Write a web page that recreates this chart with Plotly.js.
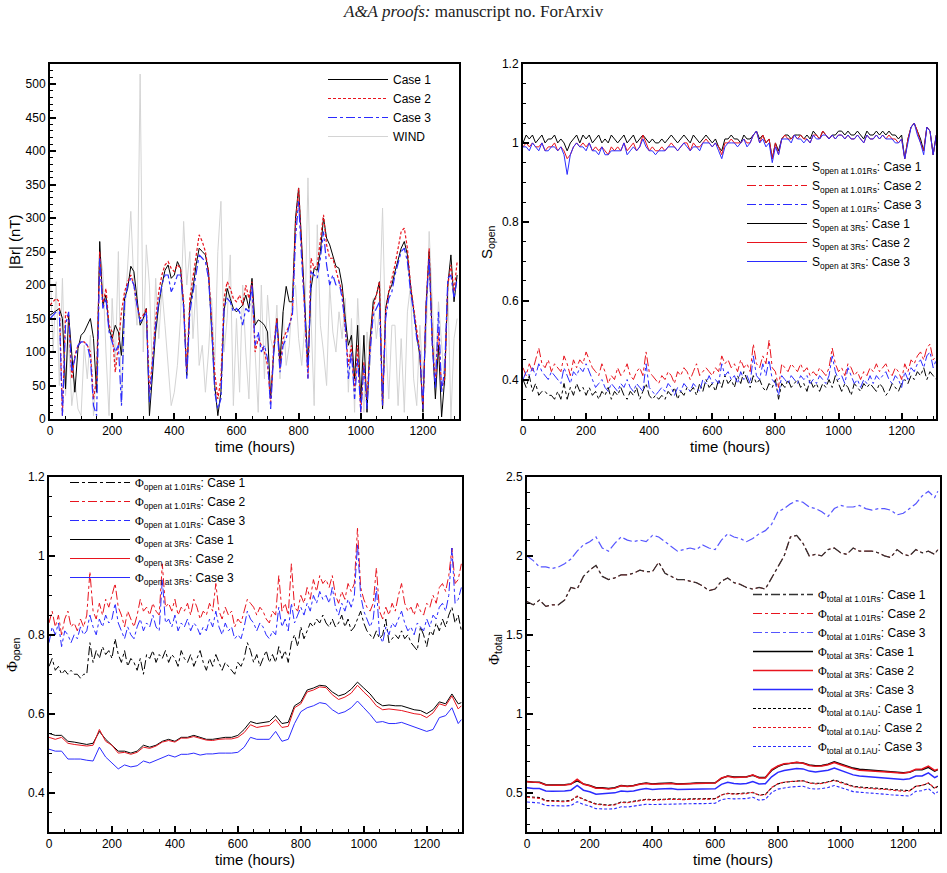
<!DOCTYPE html>
<html><head><meta charset="utf-8">
<script src="https://cdn.plot.ly/plotly-3.0.1.min.js"></script>
<style>body{margin:0;padding:0;background:#fff}#chart{width:947px;height:873px}</style>
</head><body><div id="chart"></div>
<script>
// ---------- Panel 1: |Br| (nT), sampled every 10 h ----------
const brCase1 = [155,158,162,165,150,45,155,100,40,105,125,130,140,150,120,40,265,170,185,135,120,140,
130,95,180,195,228,220,180,140,150,165,5,70,130,170,200,222,230,210,215,235,225,170,
65,170,195,230,255,250,245,220,140,50,5,40,160,195,180,165,160,165,170,185,165,210,
140,148,145,140,130,30,100,150,85,160,198,175,175,300,345,260,170,80,195,225,222,250,
300,270,260,245,228,225,200,150,110,125,60,140,25,125,10,120,175,185,205,15,165,190,
200,220,240,255,265,245,200,160,125,95,10,170,250,120,30,110,3,60,200,245,175,215];
const brCase2 = [170,175,180,175,5,160,150,60,95,110,115,115,110,100,30,60,250,170,195,140,130,70,
110,160,190,205,215,200,170,150,155,165,40,90,150,190,215,230,235,225,220,230,225,175,
70,180,210,240,275,265,250,220,150,70,30,60,180,205,195,180,175,185,170,200,180,205,
100,120,110,100,80,25,110,150,75,120,130,140,160,290,345,250,150,60,240,225,230,270,
305,260,240,240,220,205,190,140,80,110,40,110,10,85,30,110,165,185,205,20,160,190,
210,230,255,280,285,255,200,165,130,100,15,170,255,115,55,130,45,60,200,230,190,235];
const brCase3 = [150,155,160,160,5,140,160,70,90,110,115,115,110,90,20,5,240,165,180,130,115,100,
110,20,175,200,210,200,170,145,150,160,25,80,140,175,200,215,215,190,200,215,215,165,
60,160,190,215,245,240,235,210,140,40,15,30,165,180,175,160,165,160,140,165,160,200,
110,130,100,110,90,15,100,145,70,110,120,140,155,270,325,235,160,60,220,215,210,240,
280,230,200,215,200,205,180,140,60,100,30,90,10,80,15,100,155,165,175,20,150,180,
190,215,235,250,255,235,190,160,120,100,15,165,240,110,45,160,40,75,210,215,180,210];
const brWind = [230,100,205,50,210,35,120,20,60,15,5,110,60,125,5,80,250,220,100,5,180,80,
250,20,150,230,310,200,140,515,100,260,200,60,210,120,195,140,80,20,40,80,150,295,
200,250,120,200,80,110,40,100,180,80,250,325,100,150,245,20,150,40,200,100,30,180,
100,10,200,60,185,120,100,170,60,160,80,110,190,200,120,80,140,360,150,20,290,140,
100,50,200,130,100,160,120,180,40,150,10,180,90,10,130,80,180,120,160,315,120,30,
140,140,20,120,10,160,200,60,20,140,60,110,280,170,70,175,110,50,200,0,120,150];

// ---------- Panel 2: S_open, every 10 h ----------
const sOpen3Case1 = [1.00,1.02,1.01,1.02,1.00,1.01,1.02,1.00,1.01,1.01,1.02,1.00,1.01,1.00,0.98,1.00,1.01,1.02,1.00,1.02,1.01,1.02,
1.00,1.01,1.02,1.00,1.01,1.00,1.02,1.01,1.00,1.01,1.02,1.00,1.01,1.02,1.00,1.01,1.02,1.01,1.00,1.01,1.00,1.00,
1.01,1.00,1.01,1.02,1.01,1.00,1.01,1.02,1.01,1.00,1.02,1.01,1.00,1.01,1.02,1.01,1.00,1.01,0.99,0.98,1.01,1.01,
1.02,1.01,1.01,1.00,1.02,1.01,1.01,1.02,1.03,1.01,1.02,1.00,1.01,0.96,1.00,0.98,1.01,1.02,1.02,1.01,1.02,1.02,
1.02,1.01,1.02,1.01,1.03,1.02,1.01,1.03,1.02,1.01,1.02,1.02,1.03,1.03,1.02,1.03,1.02,1.02,1.03,1.02,1.01,1.03,
1.02,1.02,1.03,1.02,1.03,1.02,1.03,1.02,1.02,1.01,1.02,0.96,1.01,1.04,1.05,1.03,1.01,0.98,1.04,1.03,0.97,1.02];
const sOpen3Case2 = [0.99,1.00,0.99,1.00,0.99,0.99,1.00,0.98,0.99,0.99,1.00,0.98,0.99,0.98,0.96,0.97,0.99,1.00,0.99,1.00,0.99,1.00,
0.98,0.99,0.98,0.99,0.98,0.97,0.99,0.98,0.99,0.98,1.00,0.98,0.99,1.00,0.98,0.99,1.02,1.00,0.98,0.99,0.98,0.98,
0.99,0.98,0.99,1.00,0.99,0.98,0.99,1.00,1.00,0.98,1.00,0.99,0.99,1.00,1.01,1.00,0.99,1.00,0.99,0.97,1.00,1.00,
1.01,1.00,1.00,1.00,1.01,1.00,1.00,1.02,1.03,1.00,1.02,1.00,1.01,0.96,1.00,0.97,1.01,1.02,1.01,1.01,1.02,1.01,
1.02,1.01,1.01,1.00,1.02,1.02,1.01,1.03,1.02,1.01,1.02,1.01,1.02,1.02,1.01,1.02,1.01,1.01,1.02,1.01,1.00,1.02,
1.01,1.01,1.02,1.01,1.02,1.01,1.02,1.01,1.01,1.00,1.01,0.96,1.01,1.04,1.05,1.03,1.00,0.98,1.04,1.03,0.97,1.02];
const sOpen3Case3 = [0.99,0.99,0.98,1.00,0.99,0.98,1.00,0.98,0.98,0.99,0.99,0.98,0.99,0.97,0.92,0.97,0.99,1.00,0.99,0.99,0.98,1.00,
0.98,0.98,0.97,0.99,0.97,0.97,0.98,0.98,0.98,0.98,1.00,0.97,0.98,0.99,0.98,0.99,1.01,0.99,0.98,0.98,0.97,0.98,
0.98,0.98,0.99,0.99,0.99,0.98,0.99,1.00,0.99,0.98,0.99,0.99,0.98,1.00,1.00,1.00,0.99,1.00,0.98,0.96,0.99,1.00,
1.00,1.00,0.99,1.00,1.01,0.99,1.00,1.02,1.03,1.00,1.01,0.99,1.00,0.95,0.99,0.97,1.01,1.01,1.01,1.00,1.02,1.01,
1.01,1.00,1.01,1.00,1.02,1.01,1.01,1.02,1.02,1.01,1.02,1.01,1.02,1.02,1.01,1.02,1.01,1.01,1.02,1.01,1.00,1.02,
1.01,1.01,1.02,1.01,1.02,1.01,1.01,1.01,1.00,1.00,1.01,0.96,1.00,1.04,1.05,1.02,1.00,0.97,1.04,1.03,0.97,1.02];
const sOpen101Case1 = [0.40,0.38,0.41,0.37,0.39,0.36,0.37,0.37,0.36,0.36,0.35,0.37,0.35,0.39,0.35,0.38,0.36,0.39,0.37,0.38,0.36,0.38,
0.36,0.37,0.35,0.37,0.36,0.38,0.35,0.37,0.36,0.38,0.36,0.35,0.37,0.36,0.38,0.35,0.37,0.39,0.36,0.35,0.36,0.35,
0.36,0.35,0.37,0.36,0.38,0.35,0.37,0.36,0.38,0.37,0.38,0.36,0.39,0.37,0.40,0.38,0.39,0.37,0.40,0.38,0.41,0.39,
0.40,0.38,0.41,0.39,0.42,0.40,0.38,0.41,0.39,0.40,0.38,0.37,0.39,0.38,0.40,0.35,0.39,0.38,0.40,0.38,0.39,0.40,
0.38,0.39,0.37,0.40,0.38,0.39,0.37,0.39,0.38,0.40,0.38,0.41,0.39,0.37,0.39,0.38,0.36,0.39,0.38,0.37,0.39,0.38,
0.39,0.38,0.37,0.39,0.38,0.36,0.37,0.39,0.38,0.37,0.39,0.40,0.39,0.41,0.40,0.42,0.41,0.43,0.40,0.42,0.41,0.40];
const sOpen101Case2 = [0.43,0.41,0.44,0.42,0.45,0.48,0.44,0.43,0.45,0.42,0.44,0.43,0.42,0.46,0.44,0.41,0.45,0.43,0.45,0.44,0.47,0.45,
0.43,0.42,0.41,0.44,0.42,0.39,0.41,0.40,0.43,0.41,0.42,0.44,0.41,0.40,0.42,0.43,0.41,0.47,0.42,0.41,0.40,0.39,
0.41,0.40,0.42,0.41,0.39,0.42,0.41,0.43,0.42,0.40,0.42,0.44,0.41,0.42,0.43,0.42,0.41,0.43,0.42,0.46,0.44,0.45,
0.43,0.44,0.42,0.45,0.43,0.44,0.42,0.49,0.44,0.43,0.46,0.44,0.50,0.43,0.42,0.38,0.44,0.43,0.42,0.44,0.43,0.42,
0.44,0.42,0.43,0.41,0.42,0.41,0.43,0.42,0.41,0.43,0.48,0.44,0.42,0.43,0.41,0.44,0.43,0.41,0.42,0.40,0.42,0.41,
0.43,0.42,0.44,0.42,0.43,0.44,0.42,0.41,0.43,0.42,0.40,0.44,0.42,0.45,0.44,0.46,0.47,0.45,0.48,0.49,0.45,0.46];
const sOpen101Case3 = [0.40,0.42,0.41,0.43,0.41,0.44,0.42,0.41,0.40,0.42,0.41,0.40,0.39,0.43,0.41,0.39,0.42,0.41,0.43,0.42,0.44,0.42,
0.40,0.38,0.39,0.40,0.38,0.37,0.39,0.38,0.37,0.39,0.38,0.40,0.38,0.37,0.39,0.38,0.37,0.44,0.38,0.37,0.36,0.37,
0.38,0.37,0.39,0.38,0.36,0.38,0.37,0.39,0.38,0.37,0.39,0.38,0.37,0.40,0.39,0.41,0.39,0.40,0.39,0.44,0.41,0.42,
0.40,0.41,0.39,0.42,0.40,0.41,0.39,0.46,0.41,0.40,0.44,0.41,0.45,0.40,0.39,0.36,0.41,0.40,0.39,0.41,0.40,0.39,
0.41,0.40,0.41,0.39,0.40,0.39,0.41,0.40,0.39,0.41,0.46,0.42,0.40,0.41,0.39,0.43,0.41,0.39,0.40,0.38,0.40,0.39,
0.41,0.39,0.41,0.40,0.41,0.42,0.40,0.39,0.41,0.40,0.38,0.42,0.40,0.43,0.42,0.44,0.45,0.43,0.46,0.47,0.43,0.45];

// ---------- Panel 3: Phi_open ----------
const phiOpen101Case1 = [0.72,0.74,0.71,0.72,0.70,0.71,0.70,0.71,0.70,0.70,0.69,0.70,0.70,0.78,0.73,0.76,0.74,0.77,0.75,0.76,0.74,0.79,
0.75,0.73,0.76,0.72,0.74,0.73,0.71,0.74,0.70,0.75,0.74,0.76,0.73,0.75,0.74,0.76,0.73,0.75,0.74,0.72,0.76,0.74,
0.73,0.75,0.72,0.74,0.76,0.73,0.71,0.74,0.72,0.75,0.73,0.71,0.73,0.72,0.71,0.70,0.73,0.72,0.74,0.78,0.76,0.73,
0.75,0.72,0.74,0.76,0.73,0.75,0.73,0.77,0.74,0.76,0.73,0.78,0.80,0.77,0.82,0.79,0.81,0.83,0.82,0.84,0.83,0.85,
0.83,0.82,0.84,0.82,0.83,0.85,0.82,0.84,0.81,0.82,0.84,0.86,0.83,0.81,0.80,0.79,0.81,0.79,0.80,0.84,0.78,0.79,
0.80,0.79,0.81,0.79,0.80,0.78,0.77,0.76,0.82,0.80,0.77,0.81,0.80,0.83,0.81,0.84,0.82,0.85,0.87,0.83,0.85,0.81];
const phiOpen101Case2 = [0.83,0.86,0.82,0.85,0.80,0.84,0.86,0.82,0.83,0.81,0.84,0.82,0.85,0.96,0.86,0.84,0.88,0.85,0.89,0.87,0.90,0.93,
0.87,0.85,0.82,0.86,0.84,0.82,0.85,0.89,0.86,0.87,0.85,0.88,0.86,0.85,0.98,0.87,0.88,0.86,0.89,0.85,0.87,0.86,
0.88,0.85,0.89,0.87,0.84,0.86,0.85,0.88,0.86,0.93,0.86,0.84,0.87,0.85,0.86,0.82,0.84,0.83,0.86,0.89,0.88,0.87,
0.85,0.87,0.86,0.84,0.83,0.86,0.85,0.95,0.86,0.88,0.85,0.98,0.87,0.86,0.90,0.88,0.92,0.89,0.94,0.91,0.95,0.93,
0.94,0.92,0.95,0.90,0.88,0.91,0.89,0.93,0.91,0.93,1.07,0.92,0.89,0.87,0.86,0.88,0.97,0.86,0.84,0.87,0.85,0.88,
0.86,0.90,0.93,0.88,0.86,0.87,0.85,0.88,0.86,0.85,0.88,0.87,0.90,0.88,0.92,0.93,0.91,0.95,1.02,0.93,0.94,0.98];
const phiOpen101Case3 = [0.78,0.82,0.80,0.83,0.77,0.81,0.80,0.78,0.80,0.79,0.82,0.80,0.81,0.85,0.82,0.80,0.84,0.82,0.85,0.83,0.84,0.88,
0.83,0.81,0.79,0.82,0.80,0.79,0.82,0.84,0.81,0.83,0.82,0.85,0.82,0.81,0.94,0.83,0.84,0.82,0.85,0.81,0.83,0.82,
0.84,0.81,0.83,0.82,0.80,0.82,0.81,0.84,0.82,0.86,0.82,0.80,0.83,0.81,0.82,0.79,0.80,0.79,0.82,0.86,0.84,0.83,
0.81,0.83,0.82,0.80,0.79,0.81,0.80,0.87,0.82,0.84,0.81,0.88,0.83,0.85,0.87,0.85,0.88,0.86,0.90,0.88,0.91,0.89,
0.90,0.88,0.92,0.87,0.85,0.88,0.86,0.89,0.87,0.90,1.03,0.90,0.86,0.84,0.82,0.84,0.92,0.80,0.78,0.82,0.80,0.83,
0.82,0.84,0.86,0.83,0.81,0.82,0.80,0.83,0.82,0.81,0.84,0.82,0.85,0.84,0.87,0.88,0.86,0.90,1.02,0.88,0.89,0.92];
// every 20 h, plus 1310 h
const phiOpen3Case1 = [0.550,0.545,0.545,0.530,0.528,0.525,0.522,0.525,0.555,0.535,0.520,
0.505,0.505,0.500,0.505,0.520,0.515,0.520,0.530,0.535,0.530,0.540,
0.540,0.545,0.540,0.535,0.535,0.538,0.540,0.540,0.545,0.560,0.580,
0.575,0.578,0.580,0.595,0.575,0.578,0.620,0.630,0.660,0.665,0.672,
0.670,0.655,0.645,0.650,0.662,0.680,0.665,0.650,0.630,0.620,0.622,
0.620,0.620,0.615,0.610,0.608,0.600,0.610,0.630,0.625,0.650,0.625,0.628];
const phiOpen3Case2 = [0.540,0.535,0.540,0.525,0.522,0.520,0.518,0.520,0.560,0.530,0.520,
0.500,0.502,0.497,0.502,0.515,0.512,0.518,0.528,0.532,0.528,0.538,
0.538,0.542,0.538,0.533,0.532,0.535,0.536,0.536,0.540,0.552,0.572,
0.565,0.568,0.570,0.585,0.565,0.568,0.615,0.625,0.655,0.660,0.668,
0.666,0.648,0.636,0.642,0.652,0.672,0.655,0.640,0.620,0.610,0.612,
0.610,0.608,0.604,0.600,0.598,0.590,0.602,0.625,0.620,0.645,0.612,0.620];
const phiOpen3Case3 = [0.510,0.505,0.505,0.485,0.485,0.485,0.482,0.480,0.515,0.490,0.475,
0.460,0.470,0.465,0.468,0.480,0.475,0.482,0.490,0.495,0.490,0.497,
0.497,0.500,0.495,0.498,0.498,0.500,0.500,0.500,0.502,0.515,0.540,
0.535,0.535,0.535,0.555,0.530,0.535,0.575,0.605,0.615,0.620,0.628,
0.625,0.610,0.600,0.605,0.615,0.632,0.615,0.598,0.578,0.580,0.575,
0.575,0.578,0.572,0.565,0.560,0.555,0.560,0.590,0.595,0.615,0.575,0.585];

// ---------- Panel 4: Phi_total, every 20 h plus 1310 h ----------
const phiTot101Case1 = [1.71,1.69,1.72,1.68,1.69,1.69,1.72,1.80,1.79,1.87,1.91,
1.94,1.87,1.85,1.86,1.88,1.88,1.89,1.91,1.90,1.90,1.96,
1.89,1.87,1.85,1.85,1.84,1.83,1.81,1.78,1.79,1.84,1.86,
1.83,1.82,1.80,1.79,1.80,1.79,1.86,1.93,2.00,2.12,2.13,
2.08,2.00,2.01,2.00,2.04,2.05,2.02,2.01,2.05,2.03,2.03,
2.03,2.02,2.00,1.99,2.04,2.01,2.00,2.04,2.02,2.03,2.01,2.04];
const phiTot101Case2 = phiTot101Case1; // coincides with Case 1 in the figure
const phiTot101Case3 = [2.00,1.97,1.93,1.93,1.92,1.93,1.95,1.98,2.03,2.07,2.09,
2.12,2.05,2.03,2.08,2.12,2.10,2.09,2.10,2.09,2.13,2.12,
2.09,2.06,2.03,2.04,2.05,2.04,2.07,2.05,2.04,2.10,2.14,
2.12,2.11,2.09,2.11,2.14,2.16,2.20,2.28,2.30,2.33,2.35,
2.34,2.31,2.30,2.28,2.25,2.30,2.32,2.31,2.31,2.32,2.30,
2.29,2.30,2.30,2.29,2.26,2.27,2.30,2.33,2.38,2.41,2.37,2.41];
const phiTot3Case1 = [0.570,0.565,0.565,0.550,0.548,0.548,0.550,0.555,0.575,0.555,0.545,
0.530,0.530,0.525,0.530,0.545,0.540,0.545,0.555,0.560,0.555,0.558,
0.560,0.560,0.555,0.555,0.558,0.560,0.560,0.560,0.562,0.590,0.605,
0.598,0.598,0.600,0.610,0.595,0.595,0.640,0.665,0.680,0.685,0.690,
0.688,0.675,0.670,0.672,0.680,0.695,0.682,0.668,0.655,0.648,0.645,
0.642,0.640,0.636,0.632,0.628,0.625,0.628,0.645,0.645,0.660,0.635,0.645];
const phiTot3Case2 = [0.568,0.565,0.563,0.548,0.546,0.546,0.548,0.553,0.585,0.553,0.543,
0.528,0.528,0.522,0.528,0.543,0.538,0.543,0.553,0.558,0.553,0.556,
0.558,0.558,0.553,0.553,0.556,0.558,0.558,0.558,0.560,0.592,0.603,
0.596,0.596,0.598,0.612,0.593,0.593,0.645,0.668,0.682,0.686,0.692,
0.686,0.672,0.666,0.668,0.676,0.690,0.676,0.662,0.650,0.642,0.640,
0.638,0.636,0.632,0.628,0.625,0.622,0.630,0.648,0.650,0.668,0.640,0.648];
const phiTot3Case3 = [0.530,0.525,0.525,0.510,0.508,0.508,0.510,0.515,0.545,0.515,0.505,
0.490,0.492,0.495,0.498,0.510,0.506,0.510,0.520,0.525,0.520,0.522,
0.524,0.525,0.520,0.520,0.522,0.522,0.522,0.522,0.524,0.552,0.565,
0.558,0.555,0.557,0.570,0.555,0.556,0.600,0.628,0.640,0.645,0.652,
0.650,0.636,0.630,0.634,0.642,0.655,0.640,0.625,0.612,0.605,0.602,
0.600,0.598,0.595,0.590,0.586,0.583,0.588,0.605,0.605,0.625,0.595,0.605];
const phiTotAUCase1 = [0.475,0.470,0.468,0.450,0.448,0.446,0.446,0.450,0.475,0.458,0.445,
0.428,0.425,0.420,0.425,0.440,0.438,0.445,0.452,0.458,0.455,0.455,
0.458,0.460,0.458,0.458,0.460,0.460,0.460,0.460,0.462,0.485,0.495,
0.492,0.494,0.495,0.500,0.485,0.488,0.530,0.555,0.565,0.570,0.573,
0.575,0.562,0.558,0.560,0.568,0.580,0.567,0.553,0.540,0.535,0.533,
0.532,0.528,0.524,0.520,0.516,0.512,0.512,0.540,0.545,0.560,0.525,0.540];
const phiTotAUCase2 = [0.470,0.466,0.463,0.446,0.444,0.442,0.442,0.447,0.478,0.455,0.442,
0.425,0.422,0.418,0.422,0.437,0.435,0.442,0.449,0.455,0.452,0.452,
0.455,0.457,0.455,0.455,0.457,0.457,0.457,0.457,0.459,0.484,0.494,
0.490,0.492,0.493,0.502,0.483,0.486,0.532,0.556,0.566,0.570,0.574,
0.574,0.560,0.555,0.557,0.565,0.576,0.563,0.549,0.537,0.531,0.529,
0.528,0.524,0.520,0.516,0.512,0.508,0.510,0.540,0.546,0.562,0.528,0.545];
const phiTotAUCase3 = [0.440,0.436,0.434,0.418,0.416,0.415,0.415,0.418,0.442,0.425,0.414,
0.398,0.396,0.395,0.398,0.410,0.408,0.414,0.420,0.426,0.424,0.425,
0.428,0.430,0.428,0.428,0.430,0.430,0.430,0.430,0.432,0.455,0.462,
0.460,0.460,0.462,0.470,0.452,0.456,0.500,0.522,0.530,0.535,0.538,
0.540,0.527,0.522,0.525,0.532,0.545,0.532,0.518,0.506,0.502,0.500,
0.498,0.494,0.490,0.486,0.482,0.478,0.478,0.508,0.512,0.525,0.492,0.505];

// sampling grids (hours)
function grid10(n){const t=[];for(let i=0;i<n;i++)t.push(i*10);return t;}
function grid20(n){const t=[];for(let i=0;i<n-1;i++)t.push(i*20);t.push(1310);return t;}

const BLACK='#000000', RED='#e8141e', BLUE='#2b2bff', GRAY='#d4d4d4';
const SANS='Liberation Sans, Arial, sans-serif';
const PHI="<span style='font-family:Liberation Serif'>Φ</span>";

function tr(y, fine, name, color, dash, width, ax, leg, rank){
  return {x: fine ? grid10(y.length) : grid20(y.length), y: y, name: name, type:'scatter', mode:'lines',
    line:{color:color, dash:dash, width:width}, xaxis:'x'+ax, yaxis:'y'+ax,
    legend: leg, legendrank: rank, hoverinfo:'skip'};
}
const DD='dashdot';
const traces = [
  tr(brWind, true, 'WIND', GRAY, 'solid', 1, '', 'legend', 4),
  tr(brCase1, true, 'Case 1', BLACK, 'solid', 1, '', 'legend', 1),
  tr(brCase2, true, 'Case 2', RED, '3px,2px', 1.2, '', 'legend', 2),
  tr(brCase3, true, 'Case 3', BLUE, DD, 1.2, '', 'legend', 3),

  tr(sOpen101Case1, true, 'S<sub>open at 1.01Rs</sub>: Case 1', BLACK, DD, 1, '2', 'legend2', 1),
  tr(sOpen101Case2, true, 'S<sub>open at 1.01Rs</sub>: Case 2', RED, DD, 1, '2', 'legend2', 2),
  tr(sOpen101Case3, true, 'S<sub>open at 1.01Rs</sub>: Case 3', BLUE, DD, 1, '2', 'legend2', 3),
  tr(sOpen3Case1, true, 'S<sub>open at 3Rs</sub>: Case 1', BLACK, 'solid', 1, '2', 'legend2', 4),
  tr(sOpen3Case2, true, 'S<sub>open at 3Rs</sub>: Case 2', RED, 'solid', 1, '2', 'legend2', 5),
  tr(sOpen3Case3, true, 'S<sub>open at 3Rs</sub>: Case 3', BLUE, 'solid', 1, '2', 'legend2', 6),

  tr(phiOpen101Case1, true, PHI+'<sub>open at 1.01Rs</sub>: Case 1', BLACK, DD, 1, '3', 'legend3', 1),
  tr(phiOpen101Case2, true, PHI+'<sub>open at 1.01Rs</sub>: Case 2', RED, DD, 1, '3', 'legend3', 2),
  tr(phiOpen101Case3, true, PHI+'<sub>open at 1.01Rs</sub>: Case 3', BLUE, DD, 1, '3', 'legend3', 3),
  tr(phiOpen3Case1, false, PHI+'<sub>open at 3Rs</sub>: Case 1', BLACK, 'solid', 1, '3', 'legend3', 4),
  tr(phiOpen3Case2, false, PHI+'<sub>open at 3Rs</sub>: Case 2', RED, 'solid', 1, '3', 'legend3', 5),
  tr(phiOpen3Case3, false, PHI+'<sub>open at 3Rs</sub>: Case 3', BLUE, 'solid', 1, '3', 'legend3', 6),

  tr(phiTot101Case2, false, PHI+'<sub>total at 1.01Rs</sub>: Case 2', RED, DD, 1, '4', 'legend4', 2),
  tr(phiTot101Case1, false, PHI+'<sub>total at 1.01Rs</sub>: Case 1', '#333333', DD, 1.3, '4', 'legend4', 1),
  tr(phiTot101Case3, false, PHI+'<sub>total at 1.01Rs</sub>: Case 3', '#5555ff', DD, 1.2, '4', 'legend4', 3),
  tr(phiTotAUCase1, false, PHI+'<sub>total at 0.1AU</sub>: Case 1', BLACK, '3px,2px', 1.1, '4', 'legend4', 7),
  tr(phiTotAUCase2, false, PHI+'<sub>total at 0.1AU</sub>: Case 2', RED, '3px,2px', 1.1, '4', 'legend4', 8),
  tr(phiTotAUCase3, false, PHI+'<sub>total at 0.1AU</sub>: Case 3', BLUE, '3px,2px', 1.1, '4', 'legend4', 9),
  tr(phiTot3Case3, false, PHI+'<sub>total at 3Rs</sub>: Case 3', BLUE, 'solid', 1.5, '4', 'legend4', 6),
  tr(phiTot3Case1, false, PHI+'<sub>total at 3Rs</sub>: Case 1', BLACK, 'solid', 1.5, '4', 'legend4', 4),
  tr(phiTot3Case2, false, PHI+'<sub>total at 3Rs</sub>: Case 2', RED, 'solid', 1.5, '4', 'legend4', 5),
];

const W=947, H=873;
function px(x){return x/W;} function py(y){return 1-y/H;}
function xax(l, r, range, anchor){
  return {domain:[px(l),px(r)], range:range, anchor:anchor, dtick:200, tick0:0,
    showline:true, mirror:true, linewidth:2, linecolor:'#000', ticks:'inside', ticklen:6, tickwidth:2, tickcolor:'#000',
    minor:{ticks:'inside', dtick:50, tick0:0, ticklen:3, tickwidth:1, tickcolor:'#000', showgrid:false},
    showgrid:false, zeroline:false, tickfont:{family:SANS, size:12, color:'#000'}};
}
function yax(t, b, range, dtick, minor, anchor){
  return {domain:[py(b),py(t)], range:range, anchor:anchor, dtick:dtick, tick0:0,
    showline:true, mirror:true, linewidth:2, linecolor:'#000', ticks:'inside', ticklen:6, tickwidth:2, tickcolor:'#000',
    minor:{ticks:'inside', dtick:minor, tick0:0, ticklen:3, tickwidth:1, tickcolor:'#000', showgrid:false},
    showgrid:false, zeroline:false, tickfont:{family:SANS, size:12, color:'#000'}};
}
function leg(x, y){
  return {x:px(x), y:py(y), xanchor:'left', yanchor:'top', bgcolor:'rgba(0,0,0,0)', borderwidth:0,
    font:{family:SANS, size:12, color:'#000'}, itemwidth:60, traceorder:'normal', itemclick:false};
}
function xtitle(cx, cy){
  return {text:'time (hours)', xref:'paper', yref:'paper', x:px(cx), y:py(cy), xanchor:'center', yanchor:'middle',
    showarrow:false, font:{family:SANS, size:15, color:'#000'}};
}
function ytitle(text, cx, cy){
  return {text:text, xref:'paper', yref:'paper', x:px(cx), y:py(cy), xanchor:'center', yanchor:'middle',
    textangle:-90, showarrow:false, font:{family:SANS, size:15, color:'#000'}};
}
const layout = {
  width:W, height:H, margin:{l:0,r:0,t:0,b:0}, paper_bgcolor:'#fff', plot_bgcolor:'#fff', showlegend:true,
  xaxis: xax(50, 459, [0,1316], 'y'),
  yaxis: yax(64, 419, [0,530], 50, 10, 'x'),
  xaxis2: xax(523, 936, [0,1309], 'y2'),
  yaxis2: yax(64, 419, [0.3,1.2001], 0.2, 0.05, 'x2'),
  xaxis3: xax(49, 462, [0,1312], 'y3'),
  yaxis3: yax(477, 832, [0.3,1.2001], 0.2, 0.05, 'x3'),
  xaxis4: xax(527, 940, [0,1317], 'y4'),
  yaxis4: yax(477, 832, [0.25,2.5001], 0.5, 0.1, 'x4'),
  legend: leg(323, 65),
  legend2: leg(742, 152),
  legend3: leg(65, 468),
  legend4: leg(748, 580),
  annotations:[
    {text:'<i>A&amp;A proofs:</i> manuscript no. ForArxiv', xref:'paper', yref:'paper', x:0.5, y:py(12),
     xanchor:'center', yanchor:'middle', showarrow:false, font:{family:'Liberation Serif, Times New Roman, serif', size:17, color:'#222'}},
    xtitle(255, 447), xtitle(730, 447), xtitle(255, 859), xtitle(733, 859),
    ytitle('|Br| (nT)', 14, 242), ytitle('S<sub>open</sub>', 487, 242),
    ytitle(PHI+'<sub>open</sub>', 13, 655), ytitle(PHI+'<sub>total</sub>', 495, 650)
  ]
};
Plotly.newPlot('chart', traces, layout, {staticPlot:true, displayModeBar:false});
</script></body></html>
